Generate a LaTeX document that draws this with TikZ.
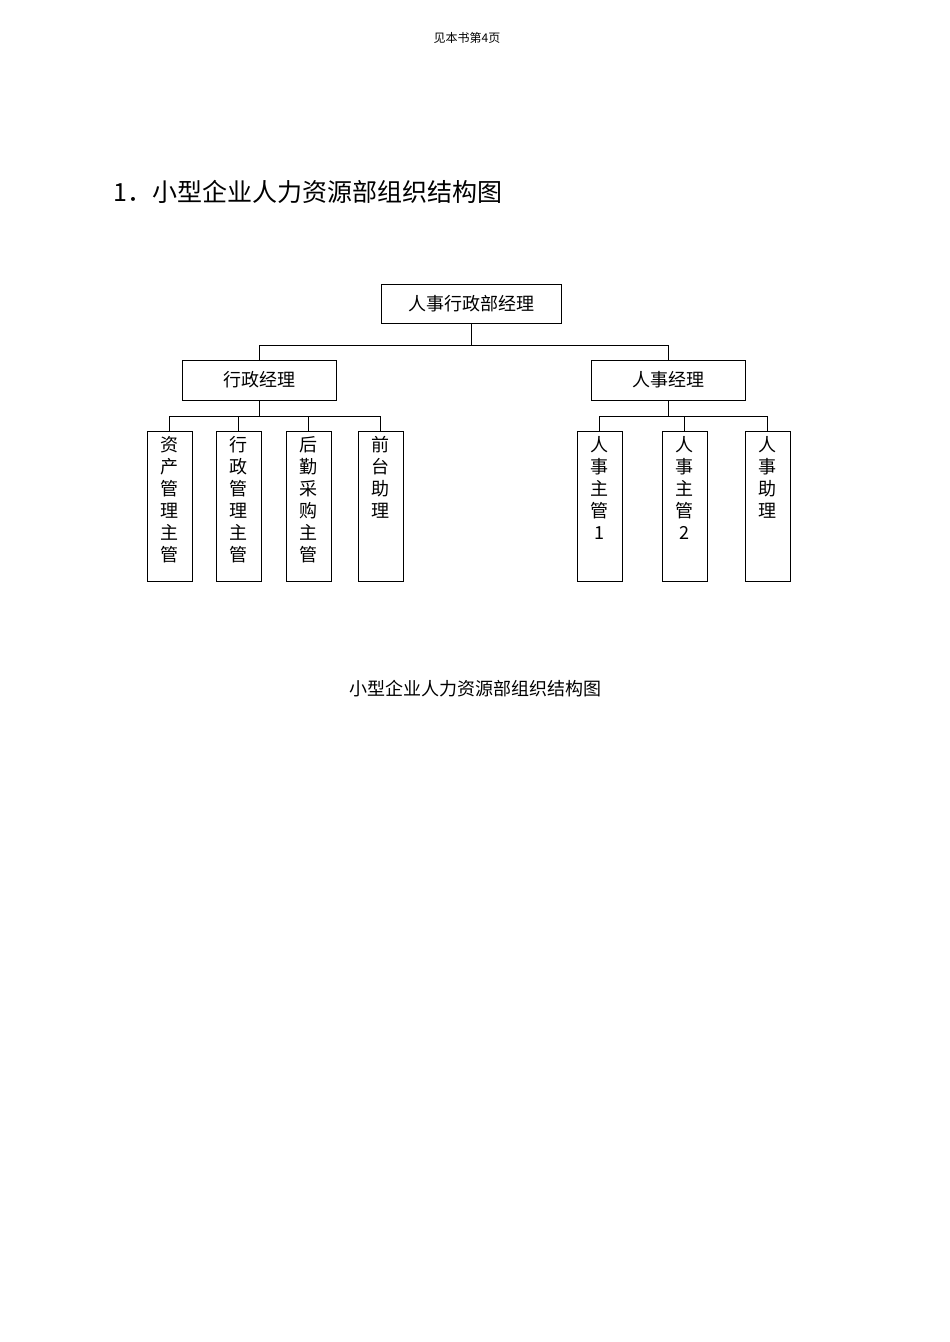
\documentclass[tikz,border=0pt]{standalone}
\usepackage{fontspec}
\newfontfamily\cjk{Noto Sans CJK SC}
\begin{document}
\begin{tikzpicture}[x=1pt,y=-1pt,
  box/.style={draw,line width=0.8pt,inner sep=0pt,font=\cjk\fontsize{18}{22}\selectfont},
  vtext/.style={anchor=north,align=center,inner sep=0pt,font=\cjk\fontsize{18}{22}\selectfont},
  ln/.style={line width=0.8pt}]
\useasboundingbox (0,0) rectangle (950,1342);
\node[font=\cjk\fontsize{12}{14}\selectfont] (hdr) at (467,38) {见本书第4页};
\node[anchor=west,font=\cjk\fontsize{25}{30}\selectfont,inner sep=0pt] (title) at (113,192) {1．小型企业人力资源部组织结构图};
\node[box,minimum width=180pt,minimum height=39pt] (top) at (471,303.5) {人事行政部经理};
\node[box,minimum width=154pt,minimum height=40pt] (xz) at (259,380) {行政经理};
\node[box,minimum width=154pt,minimum height=40pt] (rs) at (668,380) {人事经理};
\coordinate (tj) at (471,345);
\draw[ln] (top.south) -- (tj);
\draw[ln] (xz.north) -- (259,345) -- (668,345) -- (rs.north);
% leaf boxes
\foreach \n/\x in {a/169.5,b/238.5,c/308.5,d/380.5,e/599.5,f/684.5,g/767.5}{
  \node[box,minimum width=45pt,minimum height=150pt] (\n) at (\x,506) {};
}
\node[vtext] at (169.5,436) {资\\产\\管\\理\\主\\管};
\node[vtext] at (238.5,436) {行\\政\\管\\理\\主\\管};
\node[vtext] at (308.5,436) {后\\勤\\采\\购\\主\\管};
\node[vtext] at (380.5,436) {前\\台\\助\\理};
\node[vtext] at (599.5,436) {人\\事\\主\\管\\1};
\node[vtext] at (684.5,436) {人\\事\\主\\管\\2};
\node[vtext] at (767.5,436) {人\\事\\助\\理};
\draw[ln] (xz.south) -- (259,416);
\draw[ln] (a.north) -- (169.5,416) -- (380.5,416) -- (d.north);
\draw[ln] (b.north) -- (238.5,416);
\draw[ln] (c.north) -- (308.5,416);
\draw[ln] (rs.south) -- (668,416);
\draw[ln] (e.north) -- (599.5,416) -- (767.5,416) -- (g.north);
\draw[ln] (f.north) -- (684.5,416);
\node[font=\cjk\fontsize{18}{22}\selectfont] (cap) at (475,689) {小型企业人力资源部组织结构图};
\end{tikzpicture}
\end{document}
